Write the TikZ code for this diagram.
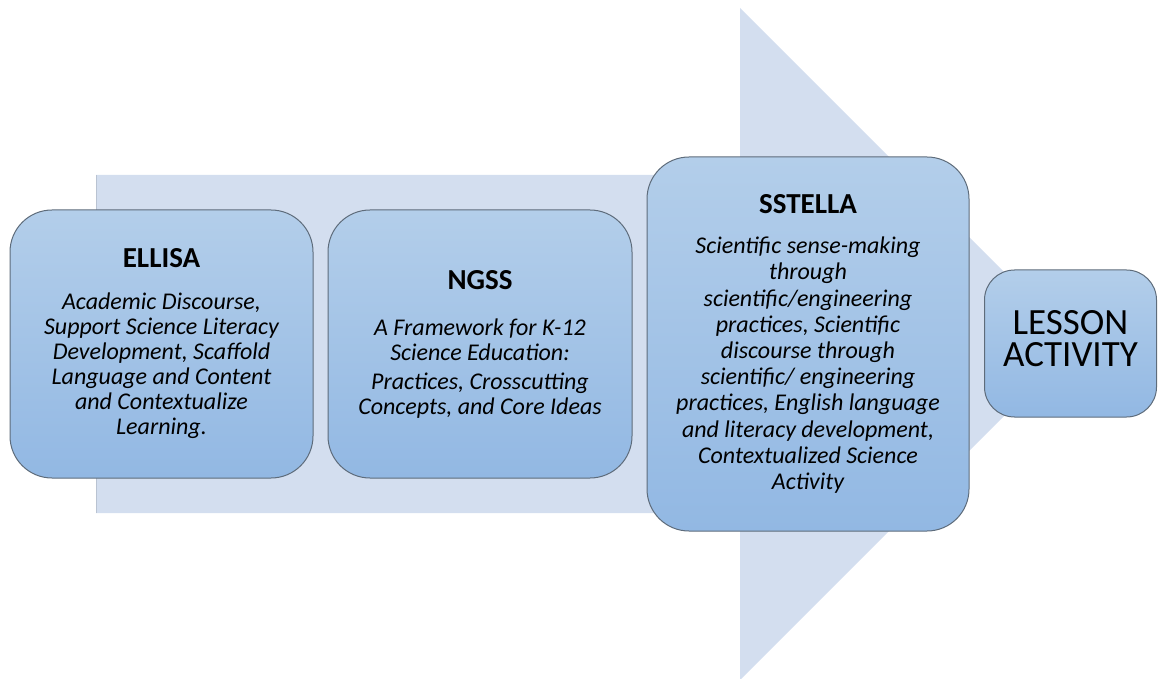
\documentclass[tikz,border=0pt]{standalone}
\usepackage{fontspec}
\setmainfont{Carlito}
\definecolor{arrowfill}{HTML}{D3DEEF}
\definecolor{arrowedge}{HTML}{B9C3D2}
\definecolor{boxtop}{HTML}{B3CEEA}
\definecolor{boxbottom}{HTML}{92B8E3}
\definecolor{boxline}{HTML}{5E6C7B}
\tikzset{
  unitbox/.style={draw=boxline, line width=1pt, rounded corners=42pt,
    top color=boxtop, bottom color=boxbottom, align=center, inner sep=0pt,
    font=\fontsize{24}{25}\selectfont\itshape},
}
\newcommand{\boxhead}[1]{{\fontsize{29}{25}\selectfont\upshape\bfseries #1}}
\begin{document}
\begin{tikzpicture}[x=1pt,y=1pt]
\useasboundingbox (0,0) rectangle (1158,678);
\fill [arrowfill] (96,165) -- (740,165) -- (740,-2) -- (1076,334)
	-- (740,670) -- (740,503) -- (96,503) -- cycle;
\draw [arrowedge,line width=0.8pt] (96,165) -- (96,503);
\node [unitbox,minimum width=303pt,minimum height=268pt] (ellisa) at (161.5,334)
	{\boxhead{ELLISA}\\[17pt]
	Academic Discourse,\\ Support Science Literacy\\ Development, Scaffold\\
	Language and Content\\ and Contextualize\\ Learning.};
\node [unitbox,minimum width=304pt,minimum height=268pt] (ngss) at (480,334)
	{\boxhead{NGSS}\\[21pt]
	A Framework for K-12\\ Science Education:\\[4pt]
	Practices, Crosscutting\\ Concepts, and Core Ideas};
\node [unitbox,minimum width=322pt,minimum height=374pt,
	font=\fontsize{24}{26.2}\selectfont\itshape] (sstella) at (808,334)
	{\boxhead{SSTELLA}\\[14pt]
	Scientific sense-making\\ through\\ scientific/engineering\\
	practices, Scientific\\ discourse through\\ scientific/ engineering\\
	practices, English language\\ and literacy development,\\
	Contextualized Science\\ Activity};
\node [unitbox,rounded corners=30pt,minimum width=172pt,minimum height=147pt,
	font=\fontsize{37}{32.5}\selectfont,text depth=10pt] (lesson) at (1070.5,334.5)
	{LESSON\\ ACTIVITY};
\end{tikzpicture}
\end{document}
